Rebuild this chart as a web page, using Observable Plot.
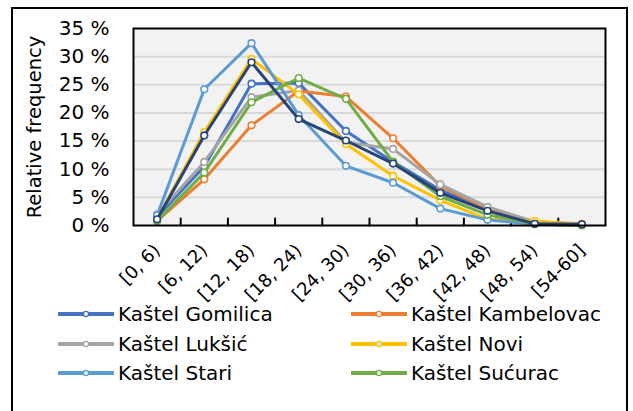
<!DOCTYPE html>
<html>
<head>
<meta charset="utf-8">
<script src="https://cdn.jsdelivr.net/npm/d3@7"></script>
<script src="https://cdn.jsdelivr.net/npm/@observablehq/plot@0.6"></script>
<style>
  html, body { margin: 0; padding: 0; background: #fff; }
  body { width: 633px; height: 411px; overflow: hidden; position: relative; font-family: "DejaVu Sans", sans-serif; }
  #border { position: absolute; left: 11px; top: 7px; width: 617px; height: 420px; border: 2px solid #000; box-sizing: border-box; }
  #chart { position: absolute; left: 0; top: 0; }
  #legend { position: absolute; left: 0; top: 0; width: 633px; }
  .item { position: absolute; display: flex; align-items: center; font-size: 20px; color: #000; white-space: nowrap; }
  .item svg { margin-right: 4px; }
</style>
</head>
<body>
<div id="border"></div>
<div id="chart"></div>
<div id="legend"></div>
<script>
const categories = ["[0, 6)", "[6, 12)", "[12, 18)", "[18, 24)", "[24, 30)", "[30, 36)", "[36, 42)", "[42, 48)", "[48, 54)", "[54-60]"];
const names = ["Kaštel Gomilica", "Kaštel Kambelovac", "Kaštel Lukšić", "Kaštel Novi", "Kaštel Stari", "Kaštel Sućurac", "Kaštela"];
const colors = ["#4472C4", "#ED7D31", "#A5A5A5", "#FFC000", "#5B9BD5", "#70AD47", "#264478"];
const gomilica   = [1.5, 10.5, 25.2, 25.3, 16.8, 11.3, 6.3, 2.8, 0.3, 0.2];
const kambelovac = [0.8, 8.2, 17.8, 23.9, 22.9, 15.5, 7.0, 3.0, 0.6, 0.3];
const luksic     = [2.0, 11.3, 22.8, 24.0, 14.8, 13.6, 7.3, 3.3, 0.7, 0.2];
const novi       = [1.2, 16.6, 29.6, 23.3, 14.5, 8.8, 4.5, 1.1, 0.8, 0.2];
const stari      = [1.8, 24.2, 32.4, 19.6, 10.6, 7.6, 3.0, 1.0, 0.2, 0.1];
const sucurac    = [0.8, 9.4, 21.9, 26.2, 22.5, 11.3, 5.2, 1.9, 0.3, 0.0];
const kastela    = [1.1, 16.0, 29.0, 18.9, 15.1, 11.0, 5.8, 2.6, 0.3, 0.2];
const yTicks = [0, 5, 10, 15, 20, 25, 30, 35];
const legendNames = names.slice(0, 6);

const seriesValues = [gomilica, kambelovac, luksic, novi, stari, sucurac, kastela];
const series = names.map((name, k) => ({name, values: seriesValues[k]}));
const rowsOf = s => s.values.map((v, i) => ({name: s.name, idx: i + 0.5, v}));
const tickShape = {draw(context, l) { context.moveTo(0, 0); context.lineTo(0, -l); }};

const marks = [
  Plot.frame({fill: "#f2f2f2"}),
  Plot.gridY(yTicks.slice(1, -1), {stroke: "#d9d9d9", strokeOpacity: 1, strokeWidth: 2}),
  Plot.axisY(yTicks, {tickSize: 0, tickPadding: 24, tickFormat: d => `${d} %`, fontSize: 20, label: null}),
  Plot.text(["Relative frequency"], {frameAnchor: "left", dx: -99, rotate: -90, fontSize: 19.5,
    textAnchor: "middle", lineAnchor: "middle", text: d => d}),
  Plot.vector(d3.range(1, 10), {x: d => d, frameAnchor: "bottom", length: 7, anchor: "start",
    shape: tickShape, stroke: "#000", strokeWidth: 2}),
  Plot.axisX(d3.range(0.5, 10, 1), {tickSize: 0, tickPadding: 22, tickRotate: -45, fontSize: 18,
    tickFormat: d => categories[Math.floor(d)], label: null}),
  ...series.flatMap(s => [
    Plot.line(rowsOf(s), {x: "idx", y: "v", stroke: "name", strokeWidth: 3, strokeLinejoin: "round"}),
    Plot.dot(rowsOf(s), {x: "idx", y: "v", r: 3.3, fill: "white", stroke: "name", strokeWidth: 1.6})
  ]),
  Plot.frame({stroke: "#000", strokeWidth: 2})
];

const chart = Plot.plot({
  width: 633,
  height: 290,
  marginLeft: 133,
  marginRight: 28,
  marginTop: 28,
  marginBottom: 65,
  style: {fontFamily: "DejaVu Sans", color: "#000", background: "transparent", overflow: "visible"},
  x: {type: "linear", domain: [0, 10], axis: null},
  y: {domain: [0, 35], axis: null},
  color: {domain: names, range: colors},
  marks
});
document.getElementById("chart").appendChild(chart);

const legend = document.getElementById("legend");
const pos = [[58, 314], [351, 314], [58, 344], [351, 344], [58, 373], [351, 373]];
legendNames.forEach((name, k) => {
  const c = colors[names.indexOf(name)];
  const el = document.createElement("div");
  el.className = "item";
  el.style.left = pos[k][0] + "px";
  el.style.top = (pos[k][1] - 13) + "px";
  el.style.height = "26px";
  el.innerHTML = `<svg width="56" height="10"><line x1="1" y1="5" x2="55" y2="5" stroke="${c}" stroke-width="4" stroke-linecap="round"/><circle cx="28" cy="5" r="2.6" fill="white" stroke="${c}" stroke-width="1.4"/></svg><span>${name}</span>`;
  legend.appendChild(el);
});
</script>
</body>
</html>
